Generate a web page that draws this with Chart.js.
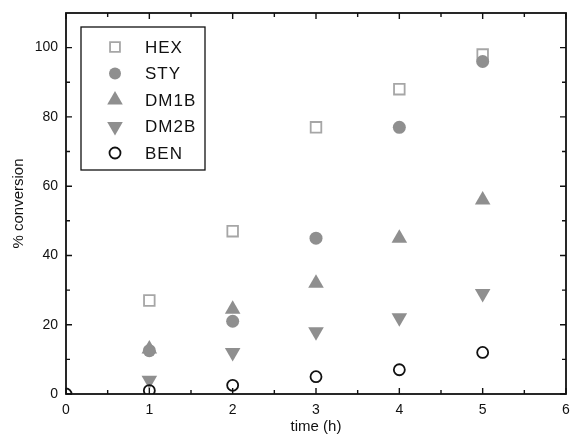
<!DOCTYPE html>
<html>
<head>
<meta charset="utf-8">
<script src="https://cdn.jsdelivr.net/npm/chart.js@4.4.1/dist/chart.umd.min.js"></script>
<style>
  html, body { margin: 0; padding: 0; background: #fff; }
</style>
</head>
<body>
<canvas id="conv" width="570" height="446"></canvas>
<script>
// conversion (%) vs time (h)
const times = [1, 2, 3, 4, 5];
const hexConv = [27, 47, 77, 88, 98];
const styConv = [12.5, 21, 45, 77, 96];
const dm1bConv = [13, 24.5, 32, 45, 56];
const dm2bConv = [4, 12, 18, 22, 29];
const benTimes = [0, 1, 2, 3, 4, 5];
const benConv = [0, 1, 2.5, 5, 7, 12];

const xTicks = [0, 1, 2, 3, 4, 5, 6];
const yTicks = [0, 20, 40, 60, 80, 100];

const FONT = "'Liberation Sans', Arial, sans-serif";
const GREY = '#8f8f8f';

function pts(xs, ys) {
  return xs.map((x, i) => ({ x: x, y: ys[i] }));
}

// frame round the plot with inward ticks on all four sides
const frameTicks = {
  id: 'frameTicks',
  afterDatasetsDraw(chart) {
    const { ctx, chartArea: a, scales: { x, y } } = chart;
    ctx.save();
    ctx.strokeStyle = '#111';
    ctx.lineWidth = 1.8;
    ctx.strokeRect(a.left, a.top, a.right - a.left, a.bottom - a.top);
    ctx.lineWidth = 1.4;
    ctx.beginPath();
    const xTick = (v, len) => {
      const px = x.getPixelForValue(v);
      ctx.moveTo(px, a.bottom); ctx.lineTo(px, a.bottom - len);
      ctx.moveTo(px, a.top); ctx.lineTo(px, a.top + len);
    };
    const yTick = (v, len) => {
      const py = y.getPixelForValue(v);
      ctx.moveTo(a.left, py); ctx.lineTo(a.left + len, py);
      ctx.moveTo(a.right, py); ctx.lineTo(a.right - len, py);
    };
    xTicks.forEach((v, i) => {
      xTick(v, 6);
      if (i < xTicks.length - 1) xTick(v + 0.5, 4);
    });
    yTicks.forEach(v => {
      yTick(v, 6);
      if (v + 10 < y.max) yTick(v + 10, 4);
    });
    ctx.stroke();
    ctx.restore();
  }
};

// boxed legend sitting inside the plot, top left
const boxLegend = {
  id: 'boxLegend',
  afterDraw(chart) {
    const { ctx } = chart;
    const left = 81, top = 27, w = 124, h = 143;
    ctx.save();
    ctx.fillStyle = '#fff';
    ctx.fillRect(left, top, w, h);
    ctx.strokeStyle = '#111';
    ctx.lineWidth = 1.3;
    ctx.strokeRect(left, top, w, h);
    chart.data.datasets.forEach((ds, i) => {
      const cy = top + 20 + i * 26.5;
      ctx.fillStyle = ds.pointBackgroundColor;
      ctx.strokeStyle = ds.pointBorderColor;
      ctx.lineWidth = ds.pointBorderWidth;
      Chart.helpers.drawPoint(ctx, {
        pointStyle: ds.pointStyle,
        rotation: ds.pointRotation || 0,
        radius: ds.legendRadius,
        borderWidth: ds.pointBorderWidth
      }, 115, cy);
      ctx.fillStyle = '#111';
      ctx.font = '17px ' + FONT;
      ctx.letterSpacing = '1px';
      ctx.textBaseline = 'middle';
      ctx.textAlign = 'left';
      ctx.fillText(ds.label, 145, cy + 1);
      ctx.letterSpacing = '0px';
    });
    ctx.restore();
  }
};

new Chart(document.getElementById('conv'), {
  type: 'scatter',
  data: {
    datasets: [
      {
        label: 'HEX', data: pts(times, hexConv), order: 5,
        pointStyle: 'rect', pointRadius: 7.5, legendRadius: 7,
        pointBackgroundColor: 'rgba(0,0,0,0)', pointBorderColor: '#a6a6a6', pointBorderWidth: 1.8
      },
      {
        label: 'STY', data: pts(times, styConv), order: 4,
        pointStyle: 'circle', pointRadius: 6.5, legendRadius: 6,
        pointBackgroundColor: GREY, pointBorderColor: GREY, pointBorderWidth: 0
      },
      {
        label: 'DM1B', data: pts(times, dm1bConv), order: 3,
        pointStyle: 'triangle', pointRadius: 9, legendRadius: 9,
        pointBackgroundColor: GREY, pointBorderColor: GREY, pointBorderWidth: 0
      },
      {
        label: 'DM2B', data: pts(times, dm2bConv), order: 2,
        pointStyle: 'triangle', pointRotation: 180, pointRadius: 9, legendRadius: 9,
        pointBackgroundColor: GREY, pointBorderColor: GREY, pointBorderWidth: 0
      },
      {
        label: 'BEN', data: pts(benTimes, benConv), order: 1,
        pointStyle: 'circle', pointRadius: 5.5, legendRadius: 5.5,
        pointBackgroundColor: 'rgba(0,0,0,0)', pointBorderColor: '#111', pointBorderWidth: 1.8
      }
    ]
  },
  options: {
    responsive: false,
    animation: false,
    events: [],
    layout: { autoPadding: false, padding: { top: 13, right: 4, left: 0, bottom: 0 } },
    plugins: {
      legend: { display: false },
      tooltip: { enabled: false }
    },
    scales: {
      x: {
        type: 'linear', min: 0, max: 6,
        afterBuildTicks: s => { s.ticks = xTicks.map(v => ({ value: v })); },
        afterFit: s => { s.height = 52; s.paddingLeft = 0; s.paddingRight = 0; },
        grid: { display: false, drawTicks: false },
        border: { display: false },
        ticks: { color: '#111', padding: 8, font: { family: FONT, size: 14 } },
        title: {
          display: true, text: 'time (h)', color: '#111',
          font: { family: FONT, size: 15 }, padding: { top: 0, bottom: 10 }
        }
      },
      y: {
        type: 'linear', min: 0, max: 110,
        afterBuildTicks: s => { s.ticks = yTicks.map(v => ({ value: v })); },
        afterFit: s => { s.width = 66; s.paddingTop = 0; s.paddingBottom = 0; },
        grid: { display: false, drawTicks: false },
        border: { display: false },
        ticks: { color: '#111', padding: 8, font: { family: FONT, size: 14 } },
        title: {
          display: true, text: '% conversion', color: '#111',
          font: { family: FONT, size: 15 }, padding: { top: 10, bottom: 0 }
        }
      }
    }
  },
  plugins: [frameTicks, boxLegend]
});
</script>
</body>
</html>
